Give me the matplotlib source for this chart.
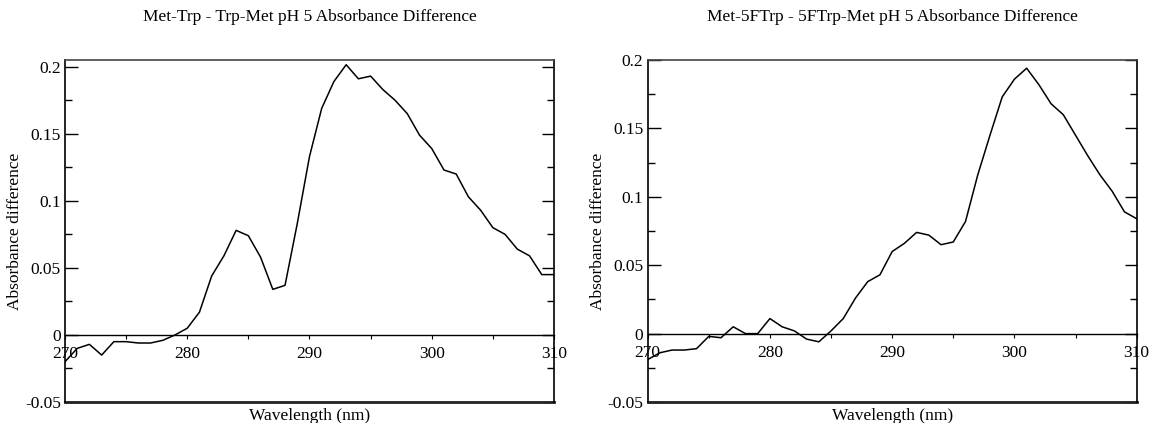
import numpy as np
import matplotlib
matplotlib.use("Agg")
import matplotlib.pyplot as plt
from matplotlib.ticker import MultipleLocator, FuncFormatter

plt.rcParams['font.family'] = ['Liberation Serif', 'DejaVu Serif']

wavelength = list(range(270, 311))

# Met-Trp - Trp-Met
diff_trp = [-0.020, -0.010, -0.007, -0.015, -0.005, -0.005, -0.006, -0.006, -0.004, 0.000,
            0.005, 0.017, 0.044, 0.059, 0.078, 0.074, 0.058, 0.034, 0.037, 0.083,
            0.133, 0.169, 0.189, 0.2015, 0.191, 0.193, 0.183, 0.175, 0.165, 0.149,
            0.139, 0.123, 0.120, 0.103, 0.093, 0.080, 0.075, 0.064, 0.059, 0.045,
            0.045]

# Met-5FTrp - 5FTrp-Met
diff_5ftrp = [-0.019, -0.014, -0.012, -0.012, -0.011, -0.002, -0.003, 0.005, 0.000, 0.000,
              0.011, 0.005, 0.002, -0.004, -0.006, 0.002, 0.011, 0.026, 0.038, 0.043,
              0.060, 0.066, 0.074, 0.072, 0.065, 0.067, 0.082, 0.116, 0.145, 0.173,
              0.186, 0.194, 0.182, 0.168, 0.160, 0.145, 0.130, 0.116, 0.104, 0.089,
              0.084]

titles = ["Met-Trp - Trp-Met pH 5 Absorbance Difference",
          "Met-5FTrp - 5FTrp-Met pH 5 Absorbance Difference"]
ylims = [(-0.05, 0.205), (-0.05, 0.2)]
x_ticks = [270, 280, 290, 300, 310]

fig = plt.figure(figsize=(11.52, 4.23), dpi=100)
lefts = [0.0564, 0.5622]

def yfmt(v, pos):
    if abs(v) < 1e-9:
        return "0"
    return ("%g" % round(v, 3))

for i, (series, title) in enumerate([(diff_trp, titles[0]), (diff_5ftrp, titles[1])]):
    ax = fig.add_axes([lefts[i], 0.0496, 0.4245, 0.8085])
    ax.plot(wavelength, series, color='black', lw=1.1)
    ax.set_xlim(270, 310)
    ax.set_ylim(*ylims[i])

    # x axis drawn along zero, frame line kept at the bottom
    ax.spines['bottom'].set_position(('data', 0))
    ax.spines['bottom'].set_linewidth(1.0)
    ax.axhline(ylims[i][0], color='#222222', lw=2.0, clip_on=False)
    for s in ['left', 'right', 'top']:
        ax.spines[s].set_linewidth(1.2)
    ax.spines['top'].set_color('#444444')

    ax.set_xticks(x_ticks)
    ax.xaxis.set_minor_locator(MultipleLocator(5))
    ax.tick_params(axis='x', which='both', direction='out', length=3, width=0.8,
                   pad=5, labelsize=12.5)
    ax.yaxis.set_major_locator(MultipleLocator(0.05))
    ax.yaxis.set_minor_locator(MultipleLocator(0.025))
    ax.yaxis.set_major_formatter(FuncFormatter(yfmt))
    ax.tick_params(axis='y', which='major', direction='in', length=9, width=1.0,
                   right=True, labelsize=12.5, pad=3)
    ax.tick_params(axis='y', which='minor', direction='in', length=5, width=1.0,
                   right=True)

    ax.text(0.5, 1.126, title, transform=ax.transAxes, ha='center', va='center',
            fontsize=12.5)
    ax.text(-0.102, 0.5, "Absorbance difference", transform=ax.transAxes,
            rotation=90, ha='center', va='center', fontsize=12.5)
    ax.text(0.5, -0.040, "Wavelength (nm)", transform=ax.transAxes,
            ha='center', va='center', fontsize=12.5)

fig.savefig("out.png", dpi=100)
